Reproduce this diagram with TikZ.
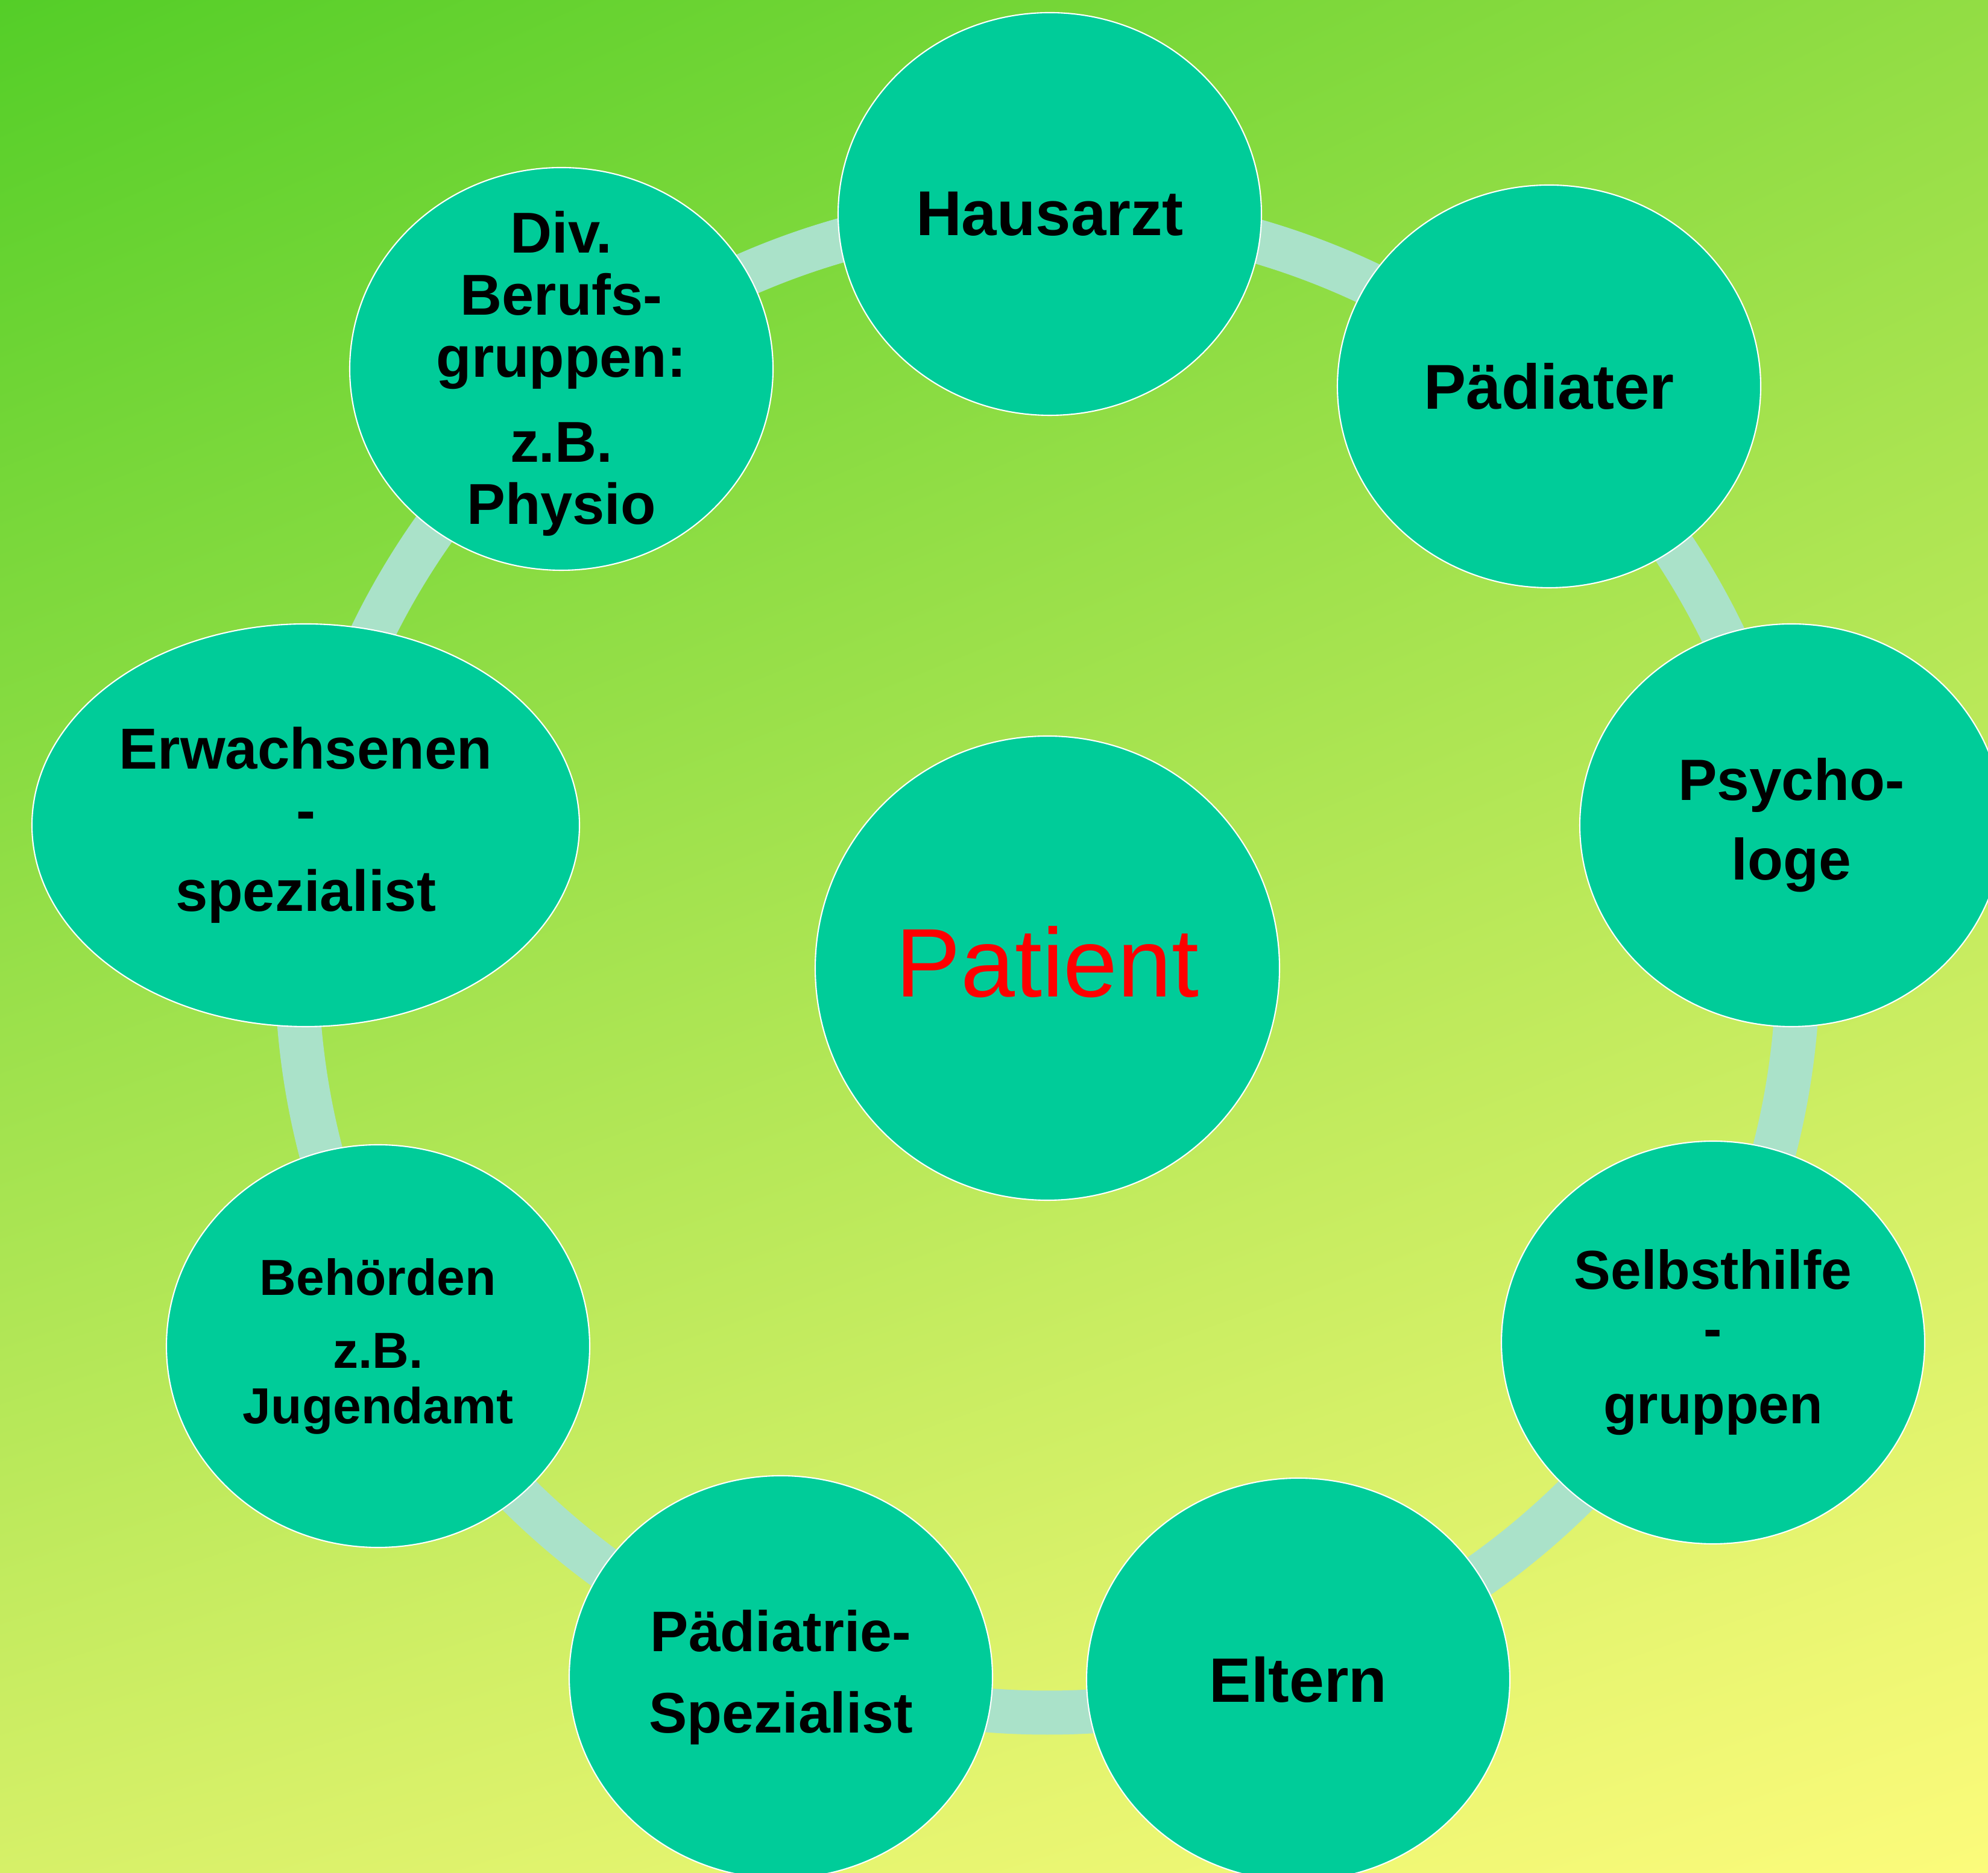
\documentclass[tikz,border=0pt]{standalone}
\usepackage{fontspec}
\setmainfont{Liberation Sans}
\usepackage{tikz}
\usetikzlibrary{shapes.geometric,shadings}
\definecolor{bgTL}{RGB}{84,206,40}
\definecolor{bgTR}{RGB}{146,221,68}
\definecolor{bgBL}{RGB}{214,240,104}
\definecolor{bgBR}{RGB}{252,251,123}
\definecolor{bubble}{RGB}{0,204,153}
\definecolor{ringcol}{RGB}{170,226,201}

\begin{document}
\begin{tikzpicture}[ring/.style={draw=ringcol, line width=0.73cm}]
  \tikzstyle{member}=[ellipse, fill=bubble, draw=white, line width=0.6pt,
    minimum width=7.02cm, minimum height=6.68cm, inner sep=0pt]
  \tikzstyle{caption}=[align=center, text=black, inner sep=0pt]
  \useasboundingbox (0,0) rectangle (32.97,31.06);
  \clip (0,0) rectangle (32.97,31.06);
  \shade[upper left=bgTL, upper right=bgTR, lower left=bgBL, lower right=bgBR]
    (0,0) rectangle (32.97,31.06);
  \coordinate (hub) at (17.37,15.10);
  \draw[ring] (hub) circle (12.45);
  % centre
  \node[member, minimum width=7.70cm, minimum height=7.70cm,
    label={[caption, text=red, yshift=0.1cm, font=\fontsize{46}{50}\selectfont]center:Patient}]
    (patient) at (17.37,15.00) {};
  % ring of partners
  \node[member, label={[caption, font=\fontsize{29.9}{32}\selectfont\bfseries]center:Hausarzt}]
    (1) at (17.41,27.51) {};
  \node[member, label={[caption, font=\fontsize{29.9}{32}\selectfont\bfseries]center:P\"adiater}]
    (2) at (25.69,24.65) {};
  \node[member, label={[caption, font=\fontsize{27.5}{37.6}\selectfont\bfseries]center:{Psycho-\\loge}}]
    (3) at (29.71,17.37) {};
  \node[member, label={[caption, font=\fontsize{25.9}{27.6}\selectfont\bfseries]center:{Selbsthilfe\\-\\[8.3pt]gruppen}}]
    (4) at (28.41,8.79) {};
  \node[member, label={[caption, font=\fontsize{29.6}{32}\selectfont\bfseries]center:Eltern}]
    (5) at (21.53,3.20) {};
  \node[member, label={[caption, font=\fontsize{27}{38.4}\selectfont\bfseries]center:{P\"adiatrie-\\Spezialist}}]
    (6) at (12.95,3.24) {};
  \node[member, label={[caption, font=\fontsize{23.9}{25.9}\selectfont\bfseries]center:{Beh\"orden\\[8.8pt]z.B.\\Jugendamt}}]
    (7) at (6.27,8.73) {};
  \node[member, minimum width=9.08cm,
    label={[caption, font=\fontsize{27.3}{28.8}\selectfont\bfseries]center:{Erwachsenen\\-\\[9.5pt]spezialist}}]
    (8) at (5.07,17.37) {};
  \node[member, label={[caption, yshift=-0.08cm, font=\fontsize{27.2}{29.3}\selectfont\bfseries]center:{Div.\\Berufs-\\gruppen:\\[11pt]z.B.\\Physio}}]
    (9) at (9.31,24.94) {};
\end{tikzpicture}
\end{document}
